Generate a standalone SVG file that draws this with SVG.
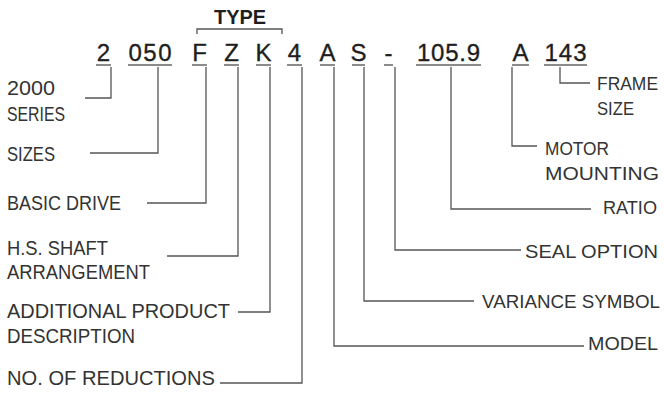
<svg xmlns="http://www.w3.org/2000/svg" width="664" height="393" viewBox="0 0 664 393">
<style>
.code{font-family:"Liberation Sans",Arial,sans-serif;font-size:24px;fill:#1e1e1e;stroke:#1e1e1e;stroke-width:0.35;text-anchor:middle}
.lbl{font-family:"Liberation Sans",Arial,sans-serif;font-size:21px;fill:#333}
.rl{font-family:"Liberation Sans",Arial,sans-serif;font-size:19px;fill:#333}
.r{text-anchor:end}
.ul{stroke:#666;stroke-width:1.3;fill:none}
.ln{stroke:#555;stroke-width:1.3;fill:none}
.type{font-family:"Liberation Sans",Arial,sans-serif;font-size:21px;font-weight:bold;fill:#1e1e1e;text-anchor:middle}
</style>
<rect width="664" height="393" fill="#fff"/>
<g id="type">
<text class="type" x="240" y="24" textLength="52" lengthAdjust="spacingAndGlyphs">TYPE</text>
<path class="ln" d="M197,34 V29 H282 V34"/>
</g>
<g id="codes">
<text class="code" x="103.5" y="61">2</text>
<text class="code" x="150" y="61" textLength="43" lengthAdjust="spacing">050</text>
<text class="code" x="199.5" y="61">F</text>
<text class="code" x="231.5" y="61">Z</text>
<text class="code" x="263.5" y="61">K</text>
<text class="code" x="294.5" y="61">4</text>
<text class="code" x="327.5" y="61">A</text>
<text class="code" x="358.5" y="61">S</text>
<text class="code" x="388.5" y="61">-</text>
<text class="code" x="448.5" y="61" textLength="63" lengthAdjust="spacing">105.9</text>
<text class="code" x="520.5" y="61">A</text>
<text class="code" x="565.5" y="61" textLength="42" lengthAdjust="spacing">143</text>
<path class="ul" d="M96,65H111M128,65H172M192,65H207M224,65H239M256,65H271M287,65H302M320,65H335M352,65H365M384,65H393M416,65H481M512,65H529M544,65H587"/>
</g>
<g id="connectors">
<path class="ln" d="M111,67V98H85"/>
<path class="ln" d="M158,67V153H90"/>
<path class="ln" d="M206,67V203H147"/>
<path class="ln" d="M238,67V256H167"/>
<path class="ln" d="M270,67V312H238"/>
<path class="ln" d="M302,67V383H220"/>
<path class="ln" d="M334,67V346H584"/>
<path class="ln" d="M364,67V301H474"/>
<path class="ln" d="M395,67V250H521"/>
<path class="ln" d="M451,67V209H591"/>
<path class="ln" d="M512,67V146H537"/>
<path class="ln" d="M560,67V83H590"/>
</g>
<g id="series"><text class="lbl" x="7" y="95" textLength="48" lengthAdjust="spacingAndGlyphs">2000</text><text class="lbl" x="7" y="121" textLength="58" lengthAdjust="spacingAndGlyphs">SERIES</text></g>
<g id="sizes"><text class="lbl" x="7" y="161" textLength="48" lengthAdjust="spacingAndGlyphs">SIZES</text></g>
<g id="basic-drive"><text class="lbl" x="7" y="210" textLength="114" lengthAdjust="spacingAndGlyphs">BASIC DRIVE</text></g>
<g id="hs-shaft"><text class="lbl" x="7" y="255" textLength="101" lengthAdjust="spacingAndGlyphs">H.S. SHAFT</text><text class="lbl" x="7" y="279" textLength="143" lengthAdjust="spacingAndGlyphs">ARRANGEMENT</text></g>
<g id="additional"><text class="lbl" x="7" y="318" textLength="223" lengthAdjust="spacingAndGlyphs">ADDITIONAL PRODUCT</text><text class="lbl" x="7" y="343" textLength="128" lengthAdjust="spacingAndGlyphs">DESCRIPTION</text></g>
<g id="reductions"><text class="lbl" x="7" y="385" textLength="208" lengthAdjust="spacingAndGlyphs">NO. OF REDUCTIONS</text></g>
<g id="frame-size"><text class="rl" x="597" y="90" textLength="61" lengthAdjust="spacingAndGlyphs">FRAME</text><text class="rl" x="597" y="115" textLength="37" lengthAdjust="spacingAndGlyphs">SIZE</text></g>
<g id="motor-mounting"><text class="rl" x="545" y="155" textLength="64" lengthAdjust="spacingAndGlyphs">MOTOR</text><text class="rl" x="545" y="180" textLength="114" lengthAdjust="spacingAndGlyphs">MOUNTING</text></g>
<g id="ratio"><text class="rl r" x="657" y="214" textLength="54" lengthAdjust="spacingAndGlyphs">RATIO</text></g>
<g id="seal"><text class="rl r" x="658" y="258" textLength="133" lengthAdjust="spacingAndGlyphs">SEAL OPTION</text></g>
<g id="variance"><text class="rl r" x="660" y="308" textLength="178" lengthAdjust="spacingAndGlyphs">VARIANCE SYMBOL</text></g>
<g id="model"><text class="rl r" x="658" y="350" textLength="70" lengthAdjust="spacingAndGlyphs">MODEL</text></g>
</svg>
